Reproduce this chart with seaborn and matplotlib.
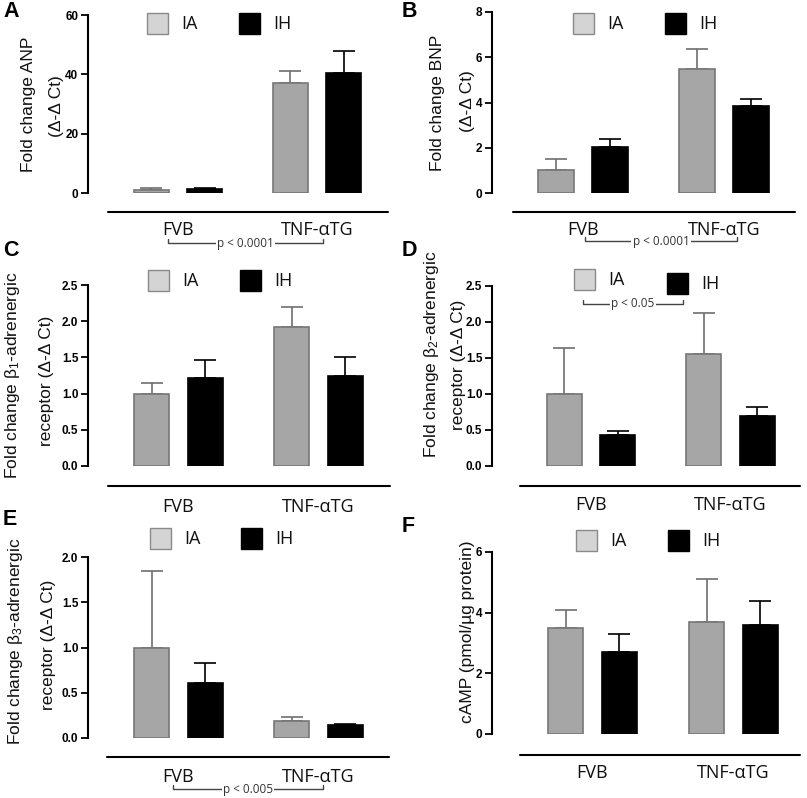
import matplotlib
matplotlib.use("Agg")
import matplotlib.pyplot as plt
import matplotlib.transforms as mtransforms
from matplotlib.lines import Line2D
from matplotlib.patches import Rectangle
import numpy as np
import pandas as pd
import seaborn as sns

# ---------------- data ----------------
groups = ["FVB", "TNF-αTG"]
treatments = ["IA", "IH"]

anp_ia = [1.0, 37.0]
anp_ih = [1.3, 40.4]
anp_ia_sem = [0.7, 4.1]
anp_ih_sem = [0.5, 7.4]

bnp_ia = [1.0, 5.47]
bnp_ih = [2.05, 3.85]
bnp_ia_sem = [0.5, 0.88]
bnp_ih_sem = [0.32, 0.29]

b1_ia = [1.0, 1.92]
b1_ih = [1.22, 1.25]
b1_ia_sem = [0.14, 0.28]
b1_ih_sem = [0.24, 0.25]

b2_ia = [1.0, 1.55]
b2_ih = [0.43, 0.69]
b2_ia_sem = [0.64, 0.58]
b2_ih_sem = [0.05, 0.13]

b3_ia = [1.0, 0.19]
b3_ih = [0.61, 0.14]
b3_ia_sem = [0.85, 0.04]
b3_ih_sem = [0.22, 0.02]

camp_ia = [3.5, 3.7]
camp_ih = [2.7, 3.6]
camp_ia_sem = [0.6, 1.4]
camp_ih_sem = [0.6, 0.8]

yticks_anp = [0, 20, 40, 60]
yticks_bnp = [0, 2, 4, 6, 8]
yticks_b1 = [0.0, 0.5, 1.0, 1.5, 2.0, 2.5]
yticks_b2 = [0.0, 0.5, 1.0, 1.5, 2.0, 2.5]
yticks_b3 = [0.0, 0.5, 1.0, 1.5, 2.0]
yticks_camp = [0, 2, 4, 6]

# ---------------- style ----------------
sns.set_theme(style="white")
plt.rcParams["font.family"] = ["Liberation Sans", "DejaVu Sans"]
plt.rcParams["mathtext.fontset"] = "custom"
plt.rcParams["mathtext.rm"] = "Liberation Sans"
plt.rcParams["mathtext.it"] = "Liberation Sans"
plt.rcParams["mathtext.bf"] = "Liberation Sans:bold"

W, H = 807, 798
fig = plt.figure(figsize=(W / 100, H / 100), dpi=100)
fig.patch.set_facecolor("white")

IA_FILL, IA_EDGE = "#a6a6a6", "#777777"
IH_FILL, IH_EDGE = "#000000", "#000000"
LEG_IA_FILL, LEG_IA_EDGE = "#d4d4d4", "#8a8a8a"
CAT_FONT = ["Open Sans", "DejaVu Sans"]


def fx(x):
    return x / W


def fy(y):
    return 1 - y / H


def fig_line(xs, ys, **kw):
    fig.add_artist(Line2D([fx(x) for x in xs], [fy(y) for y in ys],
                          transform=fig.transFigure, **kw))


panels = [
    dict(key="A", ia=anp_ia, ih=anp_ih, ia_e=anp_ia_sem, ih_e=anp_ih_sem,
         yticks=yticks_anp, fmt="{:.0f}", L=88, R=388, c=(178, 317), top=15, bot=193,
         line_y=212, line_x=(108, 388), cat_y=230, leg=((147, 13), (239, 13)),
         ylab=[(29, 104, "Fold change ANP"), (57, 106, "(Δ-Δ Ct)")], lab=(3, 1),
         bracket=((168, 323), 243, "p < 0.0001")),
    dict(key="B", ia=bnp_ia, ih=bnp_ih, ia_e=bnp_ia_sem, ih_e=bnp_ih_sem,
         yticks=yticks_bnp, fmt="{:.0f}", L=492, R=795, c=(583, 724), top=12, bot=193,
         line_y=212, line_x=(513, 795), cat_y=230, leg=((573, 13), (665, 13)),
         ylab=[(437, 103, "Fold change BNP"), (467, 101, "(Δ-Δ Ct)")], lab=(402, 1),
         bracket=((585, 737), 241, "p < 0.0001")),
    dict(key="C", ia=b1_ia, ih=b1_ih, ia_e=b1_ia_sem, ih_e=b1_ih_sem,
         yticks=yticks_b1, fmt="{:.1f}", L=88, R=390, c=(178.5, 318.5), top=285, bot=466,
         line_y=486, line_x=(108, 390), cat_y=507, leg=((148, 270), (240, 270)),
         ylab=[(13, 375, r"Fold change $\mathregular{\beta_1}$-adrenergic"),
               (46, 381, "receptor (Δ-Δ Ct)")], lab=(3, 240), bracket=None),
    dict(key="D", ia=b2_ia, ih=b2_ih, ia_e=b2_ia_sem, ih_e=b2_ih_sem,
         yticks=yticks_b2, fmt="{:.1f}", L=492, R=800, c=(591, 730.5), top=286, bot=466,
         line_y=486, line_x=(520, 800), cat_y=505, leg=((574, 269), (667, 273)),
         ylab=[(432, 354, r"Fold change $\mathregular{\beta_2}$-adrenergic"),
               (458, 365, "receptor (Δ-Δ Ct)")], lab=(402, 240),
         bracket=((583, 683), 304, "p < 0.05")),
    dict(key="E", ia=b3_ia, ih=b3_ih, ia_e=b3_ia_sem, ih_e=b3_ih_sem,
         yticks=yticks_b3, fmt="{:.1f}", L=88, R=389, c=(178.5, 318.5), top=557, bot=738,
         line_y=757, line_x=(107, 389), cat_y=777, leg=((150, 528), (241, 528)),
         ylab=[(16, 641, r"Fold change $\mathregular{\beta_3}$-adrenergic"),
               (49, 645, "receptor (Δ-Δ Ct)")], lab=(3, 509),
         bracket=((173, 323), 789, "p < 0.005")),
    dict(key="F", ia=camp_ia, ih=camp_ih, ia_e=camp_ia_sem, ih_e=camp_ih_sem,
         yticks=yticks_camp, fmt="{:.0f}", L=492, R=800, c=(592.5, 733.5), top=552, bot=734,
         line_y=755, line_x=(520, 800), cat_y=773, leg=((576, 530), (668, 530)),
         ylab=[(467, 632, "cAMP (pmol/µg protein)")], lab=(402, 516), bracket=None),
]

for p in panels:
    L, R, top, bot = p["L"], p["R"], p["top"], p["bot"]
    ax = fig.add_axes([fx(L), fy(bot), (R - L) / W, (bot - top) / H])
    df = pd.DataFrame({
        "group": groups * 2,
        "treatment": [treatments[0]] * len(groups) + [treatments[1]] * len(groups),
        "value": list(p["ia"]) + list(p["ih"]),
    })
    sns.barplot(data=df, x="group", y="value", hue="treatment", order=groups,
                hue_order=treatments, palette={"IA": IA_FILL, "IH": IH_FILL},
                width=0.763, gap=0.34, errorbar=None, legend=False, ax=ax,
                linewidth=1.2, saturation=1)
    errs = {"IA": p["ia_e"], "IH": p["ih_e"]}
    edges = {"IA": IA_EDGE, "IH": IH_EDGE}
    ecols = {"IA": "#6e6e6e", "IH": "#000000"}
    for cont, t in zip(ax.containers, treatments):
        for bar, e in zip(cont, errs[t]):
            bar.set_edgecolor(edges[t])
            bar.set_zorder(3)
            xc = bar.get_x() + bar.get_width() / 2
            yv = bar.get_height()
            ax.errorbar([xc], [yv], yerr=[[0], [e]], fmt="none", ecolor=ecols[t],
                        elinewidth=1.2, capsize=8, capthick=1.2, zorder=2)

    s = p["c"][1] - p["c"][0]
    ax.set_xlim((L - p["c"][0]) / s, 1 + (R - p["c"][1]) / s)
    ax.set_ylim(0, p["yticks"][-1])
    ax.set_yticks(p["yticks"])
    ax.set_yticklabels([p["fmt"].format(v) for v in p["yticks"]],
                       fontsize=8.5, fontweight="bold")
    ax.tick_params(axis="y", left=True, length=5, width=1.3, pad=2, color="black",
                   labelcolor="black")
    ax.tick_params(axis="x", bottom=False, labelbottom=False)
    for sp in ("top", "right", "bottom"):
        ax.spines[sp].set_visible(False)
    ax.spines["left"].set_linewidth(1.5)
    ax.spines["left"].set_color("black")
    ax.set_xlabel("")
    ax.set_ylabel("")
    ax.patch.set_alpha(0)

    # category axis line and labels
    fig_line(p["line_x"], (p["line_y"], p["line_y"]), color="black", lw=1.5)
    trans = mtransforms.blended_transform_factory(ax.transData, fig.transFigure)
    for i, g in enumerate(groups):
        ax.text(i, fy(p["cat_y"]), g, transform=trans, ha="center", va="center",
                fontsize=13, family=CAT_FONT, color="#111111", clip_on=False)

    # legend
    for (lx, ly), t in zip(p["leg"], treatments):
        fc = LEG_IA_FILL if t == "IA" else IH_FILL
        ec = LEG_IA_EDGE if t == "IA" else IH_EDGE
        fig.add_artist(Rectangle((fx(lx), fy(ly + 21)), 21 / W, 21 / H,
                                 transform=fig.transFigure, facecolor=fc,
                                 edgecolor=ec, lw=1.0))
        fig.text(fx(lx + 34), fy(ly + 11), t, ha="left", va="center", fontsize=13,
                 family=CAT_FONT, color="#111111")

    # y labels
    for (x, y, txt) in p["ylab"]:
        fig.text(fx(x), fy(y), txt, rotation=90, ha="center", va="center",
                 fontsize=12.5, color="#111111")

    # panel letter
    fig.text(fx(p["lab"][0]), fy(p["lab"][1]), p["key"], ha="left", va="top",
             fontsize=15.5, fontweight="bold", color="black")

    # significance bracket
    if p["bracket"] is not None:
        (bx0, bx1), by, btxt = p["bracket"]
        fig_line((bx0, bx0, bx1, bx1), (by - 4, by, by, by - 4), color="#444444", lw=1.0)
        fig.text(fx((bx0 + bx1) / 2), fy(by), btxt, ha="center", va="center",
                 fontsize=8.5, family=CAT_FONT, color="#333333",
                 bbox=dict(facecolor="white", edgecolor="none", pad=1.0))

fig.savefig("out.png", dpi=100)
